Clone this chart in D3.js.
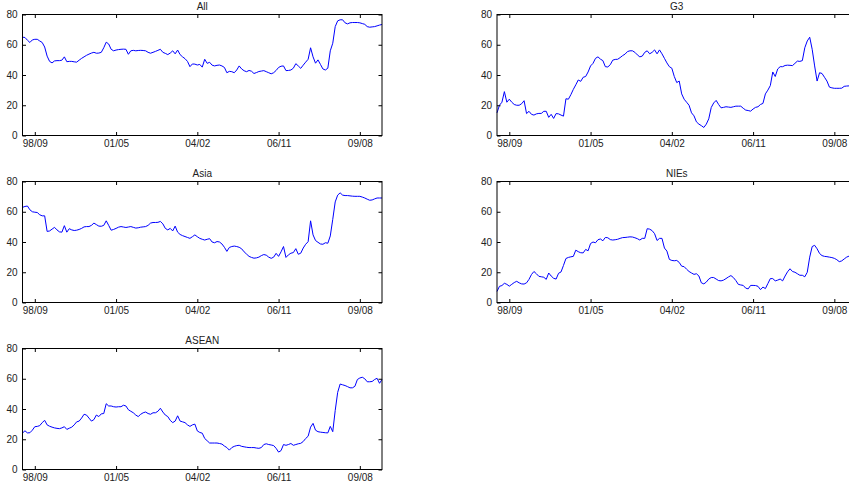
<!DOCTYPE html>
<html>
<head>
<meta charset="utf-8">
<script src="https://cdn.jsdelivr.net/npm/d3@7"></script>
<style>
  html, body { margin: 0; padding: 0; background: #fff; overflow: hidden; }
  svg { display: block; }
  text { font-family: "Liberation Sans", Arial, sans-serif; font-size: 10px; fill: #222; }
</style>
</head>
<body>
<svg id="chart" width="849" height="485"></svg>
<script>
// ---- data (monthly index, 0..146) ----
const tickIndex = [5, 38, 71, 104, 137];
const tickLabels = ["98/09", "01/05", "04/02", "06/11", "09/08"];
const yTicks = [0, 20, 40, 60, 80];
const titles = ["All", "G3", "Asia", "NIEs", "ASEAN"];

const allSeries = [65,64.8,63,61.5,63.2,63.6,63.6,62.5,61.5,58.5,52.5,49,48,49.3,49.5,49.5,49.8,52,48.8,49,
49,48.7,48.5,49.8,51,52,53,53.8,54.5,55,54.4,54.5,55,58,61.7,60.5,57,56,56.5,56.8,
57,57.1,57,53.7,56,56.3,56,56.2,56.3,56.2,56,55,54.4,55,55.6,56.3,57,55,54.3,53.5,
54.5,56,54,56.5,53.5,52,50.8,49,45.5,47.3,47.2,46.6,47,45.2,50.4,47.7,48.4,46.5,46,46.4,
46.6,46,45,41.5,42.4,42.2,41.5,43.3,46,44,42.8,42.2,43,42.5,41,41.6,42.3,42.6,42.9,42.2,
41.5,40.8,41.5,43,45,45.8,46,42.9,43,43.3,44.5,47.5,46,44.4,46.5,48.5,50.4,58,52,47.8,
50,47,44,43.3,44.5,56,61,72,75.8,76.5,76.5,74.5,73.8,74.5,74.7,74.7,74.7,74.5,74,73.5,
72,71.6,71.8,72,72.5,73,73.4];

const g3Series = [15,20,22,29,22,24,22,20.5,20,20,21,23,14.5,16,14,13.5,14.3,14.6,14.6,16,
16,12,14,11.3,14.5,14.3,13.5,12.8,24.3,24,27,30.5,33.5,36.7,35.8,38.5,39,42,46,47.7,
51,52,50.5,49.5,45.5,45.3,46.8,49.8,50.3,50.4,51.5,52.8,53.8,55.5,56,56,55,53.3,52,52.5,
55,56,54,55,56.6,54,56.6,54,51,48,45.5,44.5,39,35,36,27.5,24,22,20,15,
13,9,7.5,6.5,5.3,7.5,11,18.5,21.5,23.2,20.5,18.3,18.6,19,18.8,18.6,19,19.4,19.4,19.4,
18,16.8,16.5,16.1,17.5,18.6,19,20.5,21.2,27.5,30,33,42,39,44,45.5,45.5,46.3,46.5,46.4,
46.2,47.7,49.2,49,49.5,58,62.5,65,57,46,36,41.5,41,38.5,36,32,31.5,31.2,31.2,31.2,
31.3,32.5,32.7,32.8,33,33,33.2];

const asiaSeries = [62.9,63.5,63.8,61.3,60,59.7,59.5,58,57.3,57.3,47,47.3,48.5,49.7,48,46.7,46.5,50.8,46.5,48.8,
48,47.6,47.8,48.3,49,50,50.2,50.2,51,52.5,51.5,50.5,50.4,51,54,51,47.8,48.3,49,49.8,
50.2,49.9,49.6,49.9,50.2,49.7,49.2,49.4,49.8,50,50.2,51,52.5,52.9,52.9,53,53.6,52,49,48,
49,47.3,50.5,46.5,45,44.2,43.6,43,42.4,43.5,44.7,43.5,42.4,41.8,41.3,41.8,42.2,40,39.5,40.3,
40,38.7,36.5,33.8,36.4,37,37.3,37,36.5,35.5,33.5,32,30.5,29.8,29.3,29.5,30,31,31.7,31.3,
30,29.2,30,32.5,30.5,33.5,37,29.8,31.5,32.6,33,35.6,31.9,32.6,36,38.5,40.2,54,44.7,41,
39.8,38.7,38.5,39.5,39.2,44,55,66.5,71,72.5,71,70.7,70.7,70.5,70.3,70.2,70.2,70.2,69.7,69.1,
68.3,67.6,67.8,68.5,69.1,69.1,69.1];

const niesSeries = [7.3,10.7,11.2,12.7,12,10.8,12,13.2,14,13,12.3,12.2,13,15.3,18.5,20.5,19,17.3,17,16.7,
15.3,19.5,17.5,16,15.5,19.3,20.2,24.5,29.1,29.8,30.2,30.5,34.6,33.6,32.9,32.8,35.1,34.2,39,40,
39.5,41.5,42,40.8,43,42.8,41.6,41.3,41.5,41.8,42.4,42.9,43,43.2,43.4,43.3,42.8,42.2,41.3,42.4,
42.4,48.8,48.5,47.5,45.5,41,42.4,42.4,36,34,28.5,27.8,27.6,27.8,26.5,24,23.7,22,20.5,19.5,
18.6,19,17.5,13,12.3,13.5,15.5,16.5,16.5,15.5,14.5,14.3,14.8,15.8,16.9,17.8,16.5,14.5,12,11.6,
11.3,9.5,9,11.3,11.3,11.2,10.7,8.5,10.2,9.2,12.5,15.8,15.8,14.3,14.8,15.5,14.3,17.5,20.3,22.3,
20.5,20,19,18,18,17,20,30,37,37.8,35.5,32.4,31,30.5,30.3,30,29.7,29.2,28.3,27,
27.5,28.8,30,30.7,31,31,31];

const aseanSeries = [24.1,25.6,24.2,24.3,26,28.3,28.5,29,31,32.5,29.5,28.6,28,27.5,27.2,27,27.5,28.3,26.5,27.3,
28,29.5,31.5,32,34,36.5,36,34,32,33,36,35,36.8,37,43.5,42,42,41.5,41.3,41.5,
41.5,42.5,42,39.5,38.5,37.5,36,35,36.5,37.5,38,37,36.5,37.5,37.5,38.5,40.5,38,36,35,
32.5,31,32,35.5,32,31.5,31,29.5,28.5,29.5,30,25.5,24.5,24,20.5,19,17.5,17.5,17.5,17.5,
17.2,16.8,15.5,14.5,12.8,14.5,15.3,15.8,16,15.3,15,14.7,14.5,14.5,14.5,14.2,14,14.5,16.5,17,
16.5,16.2,15.8,14,11.5,12.5,16.5,16,16.5,17.2,16,16.5,17,17.3,18.5,20.5,22,28,30.5,26,
25,24.7,24.5,24.3,24.2,28.5,25,39,51,56.5,56,55.5,54.8,54,54,55,59.5,60.5,61,60,
58,58,58.2,59.5,60.3,57,59.5];

const seriesList = [allSeries, g3Series, asiaSeries, niesSeries, aseanSeries];

// ---- layout ----
const colLeft = [22.5, 497];
const rowTop = [14.5, 181.5, 348.5];
const W = 359.5, H = 121;
const tickLen = 3.5;

const svg = d3.select("#chart");

seriesList.forEach((vals, k) => {
  const col = k % 2, row = Math.floor(k / 2);
  const g = svg.append("g").attr("transform", `translate(${colLeft[col]},${rowTop[row]})`);

  const x = d3.scaleLinear().domain([0, vals.length - 1]).range([0, W]);
  const y = d3.scaleLinear().domain([0, 80]).range([H, 0]);

  // line
  g.append("path")
    .datum(vals)
    .attr("fill", "none")
    .attr("stroke", "#0000ff")
    .attr("stroke-width", 1)
    .attr("d", d3.line().x((d, i) => x(i)).y(d => y(d)));

  // axes
  const bottom = g.append("g").attr("transform", `translate(0,${H})`)
    .call(d3.axisBottom(x).tickValues(tickIndex).tickFormat((d, i) => tickLabels[i])
      .tickSize(-tickLen).tickPadding(4.5));
  const top = g.append("g")
    .call(d3.axisTop(x).tickValues(tickIndex).tickFormat("").tickSize(-tickLen));
  const left = g.append("g")
    .call(d3.axisLeft(y).tickValues(yTicks).tickSize(-tickLen).tickPadding(5));
  const right = g.append("g").attr("transform", `translate(${W},0)`)
    .call(d3.axisRight(y).tickValues(yTicks).tickFormat("").tickSize(-tickLen));

  [bottom, top, left, right].forEach(a => {
    a.select(".domain").remove();
    a.selectAll("line").attr("stroke", "#000");
    a.selectAll("text").attr("font-family", null).attr("font-size", null).style("fill", "#222");
  });

  // frame
  g.append("rect")
    .attr("x", 0).attr("y", 0).attr("width", W).attr("height", H)
    .attr("fill", "none").attr("stroke", "#000").attr("stroke-width", 1);

  // title
  g.append("text")
    .attr("x", W / 2).attr("y", -4.5)
    .attr("text-anchor", "middle")
    .text(titles[k]);
});
</script>
</body>
</html>
